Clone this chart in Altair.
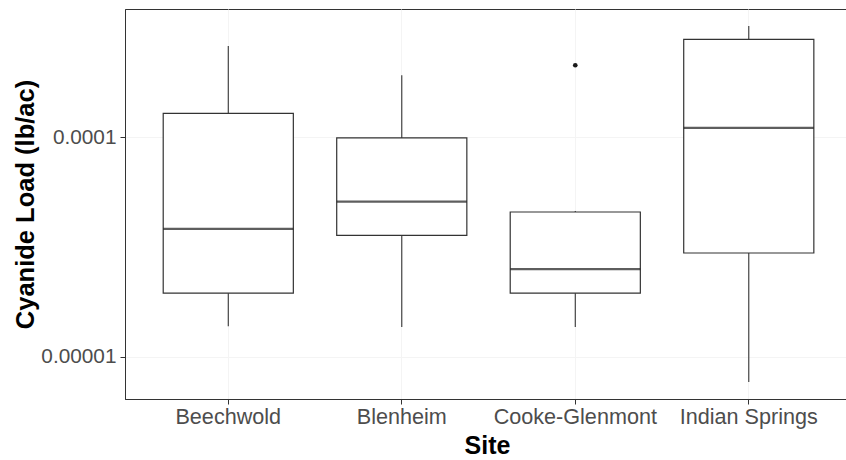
import altair as alt
import pandas as pd

# Five-number summaries of cyanide load (lb/ac) for each site
sites = ["Beechwold", "Blenheim", "Cooke-Glenmont", "Indian Springs"]
whisker_low = [1.38e-5, 1.37e-5, 1.37e-5, 7.7e-6]
q1 = [1.95e-5, 3.57e-5, 1.95e-5, 2.97e-5]
median = [3.82e-5, 5.08e-5, 2.51e-5, 1.10e-4]
q3 = [1.28e-4, 9.9e-5, 4.56e-5, 2.78e-4]
whisker_high = [2.59e-4, 1.91e-4, 4.61e-5, 3.20e-4]

# Points beyond the whiskers
outlier_sites = ["Cooke-Glenmont"]
outlier_values = [2.12e-4]

y_ticks = [1e-5, 1e-4]
y_domain = [6.44e-6, 3.819e-4]

stats = pd.DataFrame({
    "site": sites,
    "lower": whisker_low,
    "q1": q1,
    "median": median,
    "q3": q3,
    "upper": whisker_high,
})
outliers = pd.DataFrame({"site": outlier_sites, "value": outlier_values})

FONT = "Liberation Sans"
DARK = "#333333"

x_enc = alt.X(
    "site:N",
    sort=sites,
    scale=alt.Scale(paddingInner=0.25, paddingOuter=0.2028, align=0.543),
    axis=alt.Axis(
        title="Site",
        labelAngle=0,
        labelFontSize=21.6,
        labelColor="#4d4d4d",
        labelPadding=2,
        tickSize=5,
        tickColor=DARK,
        domainColor=DARK,
        titleFontSize=25,
        titleFontWeight="bold",
        titleColor="black",
        titleX=362,
        titleY=54,
        titleBaseline="alphabetic",
        grid=True,
        gridColor="#f4f4f4",
    ),
)

y_scale = alt.Scale(type="log", domain=y_domain, nice=False, clamp=False)
y_axis = alt.Axis(
    title="Cyanide Load (lb/ac)",
    values=y_ticks,
    format=".5~f",
    labelFontSize=20.8,
    labelColor="#4d4d4d",
    labelPadding=4,
    tickSize=5,
    tickColor=DARK,
    domainColor=DARK,
    titleFontSize=25.5,
    titleFontWeight="bold",
    titleColor="black",
    titleAngle=-90,
    titleX=-92,
    titleY=195,
    titleAlign="center",
    titleBaseline="alphabetic",
    grid=True,
    gridColor="#f4f4f4",
)

base = alt.Chart(stats)

whiskers = base.mark_rule(color=DARK, strokeWidth=1.1).encode(
    x=x_enc,
    y=alt.Y("lower:Q", scale=y_scale, axis=y_axis),
    y2="upper:Q",
)

boxes = base.mark_bar(fill="white", stroke=DARK, strokeWidth=1.2).encode(
    x=x_enc,
    y=alt.Y("q1:Q", scale=y_scale),
    y2="q3:Q",
)

medians = base.mark_tick(color="#1a1a1a", thickness=2.2, size=130).encode(
    x=x_enc,
    y=alt.Y("median:Q", scale=y_scale),
)

points = alt.Chart(outliers).mark_circle(size=22, color="#1a1a1a", opacity=1).encode(
    x=x_enc,
    y=alt.Y("value:Q", scale=y_scale),
)

chart = (
    alt.layer(whiskers, boxes, medians, points)
    .properties(
        width=721,
        height=390,
        padding={"left": 125, "top": 9, "right": 0, "bottom": 61},
        autosize=alt.AutoSizeParams(type="none"),
        background="white",
    )
    .configure_view(stroke=DARK, strokeWidth=1)
    .configure_axis(labelFont=FONT, titleFont=FONT)
)

chart.save("out.html", embed_options={"renderer": "svg", "actions": False})
